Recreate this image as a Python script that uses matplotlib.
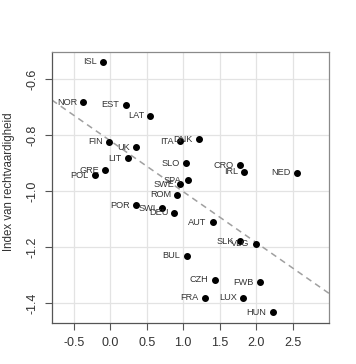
import numpy as np
import matplotlib
matplotlib.use("Agg")
import matplotlib.pyplot as plt

plt.rcParams['font.family'] = ['Liberation Sans', 'DejaVu Sans']

# countries, x value, index van rechtvaardigheid
countries = ["ISL", "NOR", "EST", "LAT", "FIN", "UK", "LIT", "GRE", "POL",
             "ITA", "DNK", "SLO", "SPA", "SWE", "ROM", "POR", "SWI", "DEU",
             "AUT", "SLK", "VLG", "BUL", "CZH", "FWB", "FRA", "LUX", "HUN",
             "CRO", "IRL", "NED"]
x_vals = [-0.10, -0.37, 0.21, 0.55, -0.02, 0.35, 0.24, -0.07, -0.21,
          0.95, 1.22, 1.04, 1.06, 0.96, 0.92, 0.35, 0.71, 0.88,
          1.41, 1.78, 2.00, 1.05, 1.43, 2.05, 1.30, 1.82, 2.23,
          1.78, 1.84, 2.56]
y_vals = [-0.538, -0.682, -0.691, -0.731, -0.823, -0.843, -0.883, -0.926, -0.944,
          -0.821, -0.814, -0.900, -0.962, -0.976, -1.013, -1.051, -1.061, -1.078,
          -1.112, -1.179, -1.188, -1.231, -1.318, -1.326, -1.382, -1.382, -1.434,
          -0.907, -0.930, -0.935]

# dashed trend line
fit_intercept = -0.820
fit_slope = -0.182

xticks = [-0.5, 0.0, 0.5, 1.0, 1.5, 2.0, 2.5]
yticks = [-0.6, -0.8, -1.0, -1.2, -1.4]

fig = plt.figure(figsize=(3.56, 3.64), dpi=100)
ax = fig.add_axes([0.146, 0.1135, 0.778, 0.7435])

ax.set_xlim(-0.8, 3.0)
ax.set_ylim(-1.471, -0.5025)

ax.grid(True, color="#e3e3e3", linewidth=0.9)
ax.set_axisbelow(True)

xs = np.array(ax.get_xlim())
ax.plot(xs, fit_intercept + fit_slope * xs, color="#a0a0a0", linestyle=(0, (4, 3)),
        linewidth=1.1, zorder=2)

ax.plot(x_vals, y_vals, "o", color="black", markersize=4, zorder=3)
for name, xv, yv in zip(countries, x_vals, y_vals):
    ax.annotate(name, (xv, yv), xytext=(-4.5, 0), textcoords="offset points",
                ha="right", va="center", fontsize=6.6, color="#333333", zorder=4)

ax.set_xticks(xticks)
ax.set_xticklabels([f"{t:.1f}" for t in xticks])
ax.set_yticks(yticks)
ax.set_yticklabels([f"{t:.1f}" for t in yticks], rotation=90, va="center")
ax.tick_params(axis="both", direction="out", length=5, width=0.8, color="#555555",
               labelsize=9, labelcolor="#333333", pad=5)

for side in ["left", "bottom"]:
    ax.spines[side].set_color("#555555")
    ax.spines[side].set_linewidth(0.9)
for side in ["top", "right"]:
    ax.spines[side].set_color("#8a8a8a")
    ax.spines[side].set_linewidth(0.9)

ax.set_ylabel("Index van rechtvaardigheid", fontsize=8.3, color="#333333")
ax.yaxis.set_label_coords(-0.135, 0.52)

fig.savefig("out.png", dpi=100)
